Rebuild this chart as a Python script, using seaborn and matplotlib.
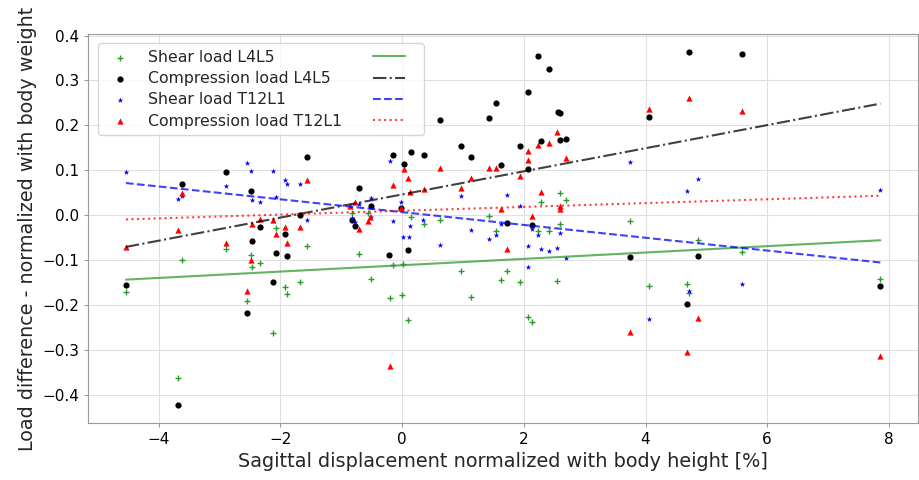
import numpy as np
import matplotlib
matplotlib.use("Agg")
import matplotlib.pyplot as plt
import seaborn as sns

x_shear_l4l5 = [-4.54, -3.69, -3.62, -2.89, -2.55, -2.48, -2.47, -2.34, -2.13, -2.08, -1.93, -1.90,
                -1.68, -1.56, -0.83, -0.71, -0.56, -0.52, -0.20, -0.15, -0.01, 0.02, 0.10, 0.14,
                0.36, 0.63, 0.96, 1.13, 1.42, 1.55, 1.63, 1.73, 1.93, 2.07, 2.13, 2.24, 2.29,
                2.41, 2.55, 2.59, 2.59, 2.69, 3.75, 4.06, 4.68, 4.71, 4.87, 5.59, 7.86]
y_shear_l4l5 = [-0.172, -0.362, -0.100, -0.076, -0.191, -0.089, -0.116, -0.106, -0.262, -0.029, -0.159, -0.175,
                -0.149, -0.069, 0.006, -0.086, 0.006, -0.143, -0.185, -0.111, -0.177, -0.109, -0.233, -0.004,
                -0.019, -0.010, -0.125, -0.183, -0.001, -0.035, -0.144, -0.125, -0.149, -0.227, -0.237, -0.035, 0.030,
                -0.036, -0.147, 0.050, -0.020, 0.035, -0.012, -0.157, -0.153, -0.173, -0.055, -0.081, -0.143]

x_comp_l4l5 = [-4.54, -3.69, -3.62, -2.89, -2.55, -2.48, -2.47, -2.34, -2.13, -2.08, -1.93, -1.90,
               -1.68, -1.56, -0.83, -0.78, -0.71, -0.52, -0.21, -0.15, -0.02, 0.03, 0.10, 0.14,
               0.36, 0.63, 0.96, 1.13, 1.42, 1.55, 1.63, 1.73, 1.93, 2.07, 2.07, 2.13, 2.23, 2.29,
               2.41, 2.56, 2.60, 2.59, 2.69, 3.75, 4.06, 4.68, 4.71, 4.87, 5.59, 7.86]
y_comp_l4l5 = [-0.156, -0.423, 0.069, 0.096, -0.218, 0.055, -0.058, -0.027, -0.148, -0.085, -0.042, -0.090,
               0.001, 0.130, -0.010, -0.024, 0.061, 0.021, -0.089, 0.133, 0.016, 0.113, -0.077, 0.140,
               0.133, 0.213, 0.154, 0.129, 0.217, 0.249, 0.112, -0.018, 0.155, 0.274, 0.104, -0.022, 0.355, 0.166,
               0.325, 0.229, 0.227, 0.167, 0.170, -0.094, 0.218, -0.197, 0.364, -0.091, 0.360, -0.157]

x_shear_t12l1 = [-4.54, -3.69, -3.62, -2.89, -2.55, -2.48, -2.47, -2.34, -2.13, -2.08, -1.93, -1.90,
                 -1.68, -1.56, -0.83, -0.78, -0.71, -0.52, -0.51, -0.20, -0.15, -0.02, 0.02, 0.11,
                 0.13, 0.35, 0.63, 0.96, 1.13, 1.42, 1.55, 1.63, 1.73, 1.93, 2.07, 2.07, 2.13, 2.24,
                 2.29, 2.41, 2.55, 2.59, 2.69, 3.75, 4.06, 4.68, 4.71, 4.87, 5.59, 7.86]
y_shear_t12l1 = [0.097, 0.037, 0.043, 0.064, 0.117, 0.098, 0.035, 0.029, 0.098, 0.041, 0.079, 0.070,
                 0.070, -0.010, -0.007, -0.014, 0.026, 0.038, -0.005, 0.120, -0.013, 0.030, -0.048, -0.049,
                 -0.024, -0.011, -0.067, 0.043, -0.033, -0.053, -0.045, -0.020, 0.045, 0.021, -0.069, -0.116, -0.030, -0.044,
                 -0.075, -0.079, -0.072, -0.039, -0.095, 0.118, -0.231, 0.053, -0.168, 0.080, -0.154, 0.057]

x_comp_t12l1 = [-4.54, -3.69, -3.62, -2.89, -2.55, -2.48, -2.47, -2.34, -2.13, -2.08, -1.93, -1.90,
                -1.68, -1.56, -0.85, -0.78, -0.71, -0.53, -0.56, -0.20, -0.15, -0.02, 0.03, 0.10,
                0.13, 0.36, 0.63, 0.96, 1.13, 1.42, 1.55, 1.63, 1.73, 1.93, 2.07, 2.07, 2.13, 2.24,
                2.29, 2.41, 2.55, 2.59, 2.60, 2.69, 3.75, 4.06, 4.68, 4.71, 4.87, 5.59, 7.86]
y_comp_t12l1 = [-0.070, -0.033, 0.050, -0.061, -0.168, -0.099, -0.020, -0.009, -0.010, -0.042, -0.026, -0.061,
                -0.026, 0.078, 0.021, 0.030, -0.030, -0.005, -0.013, -0.335, 0.067, 0.017, 0.103, 0.083,
                0.052, 0.058, 0.106, 0.060, 0.083, 0.106, 0.106, 0.013, -0.076, 0.087, 0.143, 0.124, -0.002, 0.157,
                0.052, 0.160, 0.186, 0.021, 0.013, 0.128, -0.260, 0.236, -0.304, 0.262, -0.228, 0.232, -0.314]

labels = ["Shear load L4L5", "Compression load L4L5", "Shear load T12L1", "Compression load T12L1"]

sns.set_style("whitegrid", {"axes.edgecolor": "0.6", "grid.color": "0.88",
                            "xtick.bottom": True, "ytick.left": True})
plt.rcParams["font.family"] = ["DejaVu Sans"]

fig, ax = plt.subplots(figsize=(9.19, 4.8), dpi=100)
fig.subplots_adjust(left=0.096, right=0.999, bottom=0.119, top=0.929)

series = [
    (x_shear_l4l5, y_shear_l4l5, "#2e9a2e", "+", 22, "-"),
    (x_comp_l4l5, y_comp_l4l5, "k", "o", 20, "-."),
    (x_shear_t12l1, y_shear_t12l1, "b", "*", 18, "--"),
    (x_comp_t12l1, y_comp_t12l1, "r", "^", 20, ":"),
]
for (xs, ys, c, m, s, ls), lab in zip(series, labels):
    sns.regplot(x=np.array(xs), y=np.array(ys), ax=ax, ci=None, marker=m, color=c,
                scatter_kws={"s": s, "linewidths": 1 if m == "+" else 0, "alpha": 1, "label": lab},
                line_kws={"ls": ls, "lw": 1.5, "alpha": 0.75, "label": ""})

sc = ax.collections[:4]
ln = ax.lines[:4]
ax.legend(list(sc) + list(ln), labels + [""] * 4, ncol=2, loc="upper left",
          fontsize=11.3, frameon=True, handlelength=2.0, columnspacing=2.0,
          labelspacing=0.4, borderaxespad=0.6)

ax.set_xticks([-4, -2, 0, 2, 4, 6, 8])
ax.set_yticks(np.arange(-0.4, 0.41, 0.1))
ax.tick_params(labelsize=11, colors="0.6", labelcolor="black", length=3)
ax.set_xlabel("Sagittal displacement normalized with body height [%]", fontsize=13.9)
ax.set_ylabel("Load difference - normalized with body weight", fontsize=13.8)

fig.savefig("out.png", dpi=100)
